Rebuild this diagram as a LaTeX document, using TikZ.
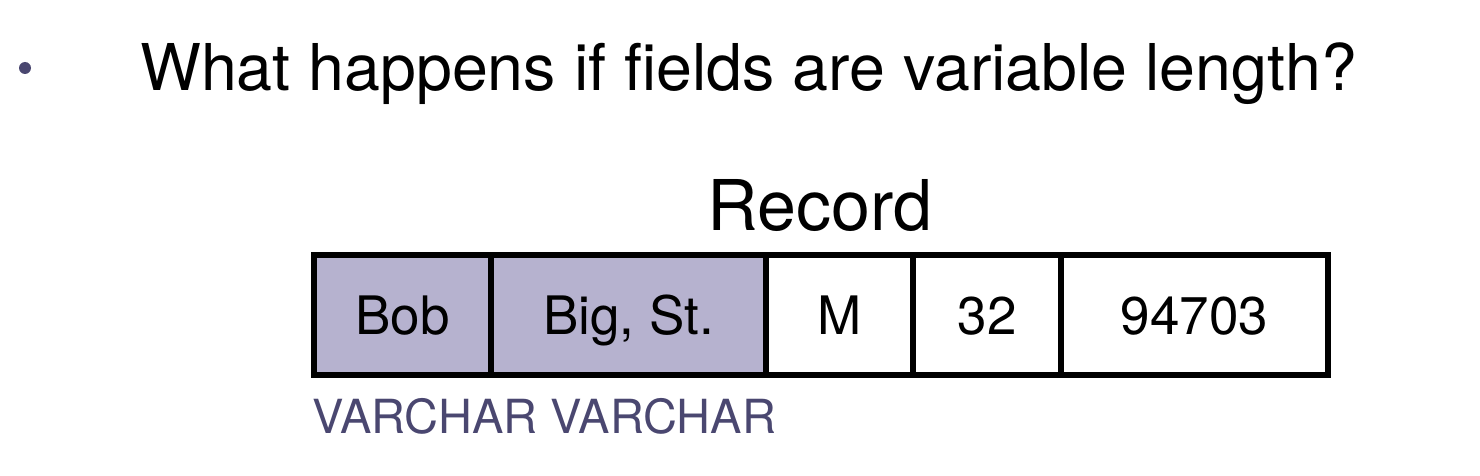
\documentclass[tikz,border=0pt]{standalone}
\usepackage{fontspec}
\setmainfont{TeX Gyre Heros}
\definecolor{lav}{HTML}{B6B2CF}
\definecolor{dpurp}{HTML}{4A4770}
\tikzset{
  cell/.style={draw=black, line width=5.5pt, minimum height=120pt, inner sep=0pt,
    font=\fontsize{53}{60}\selectfont, text height=38pt, text depth=0pt},
  varcell/.style={cell, fill=lav},
  plaincell/.style={cell, fill=white},
}
\begin{document}
\begin{tikzpicture}[x=1pt,y=-1pt]
\useasboundingbox[fill=white] (0,0) rectangle (1480,476);
\fill[dpurp] (25,68) circle[radius=6pt];
\node[anchor=base west, inner sep=0pt, font=\fontsize{64.5}{72}\selectfont] (title) at (140,91) {What happens if fields are variable length?};
\node[anchor=base, inner sep=0pt, font=\fontsize{70}{78}\selectfont] (rec) at (820,230) {Record};
\node[varcell, minimum width=177pt] (c1) at (402.5,315) {Bob};
\node[varcell, minimum width=275pt] (c2) at (628.5,315) {Big, St.};
\node[plaincell, minimum width=147pt] (c3) at (839.5,315) {M};
\node[plaincell, minimum width=148pt] (c4) at (987,315) {32};
\node[plaincell, minimum width=267pt] (c5) at (1194.5,315) {94703};
\node[anchor=base west, inner sep=0pt, text=dpurp, font=\fontsize{47}{52}\selectfont] (vc) at (312,433) {VARCHAR VARCHAR};
\end{tikzpicture}
\end{document}
